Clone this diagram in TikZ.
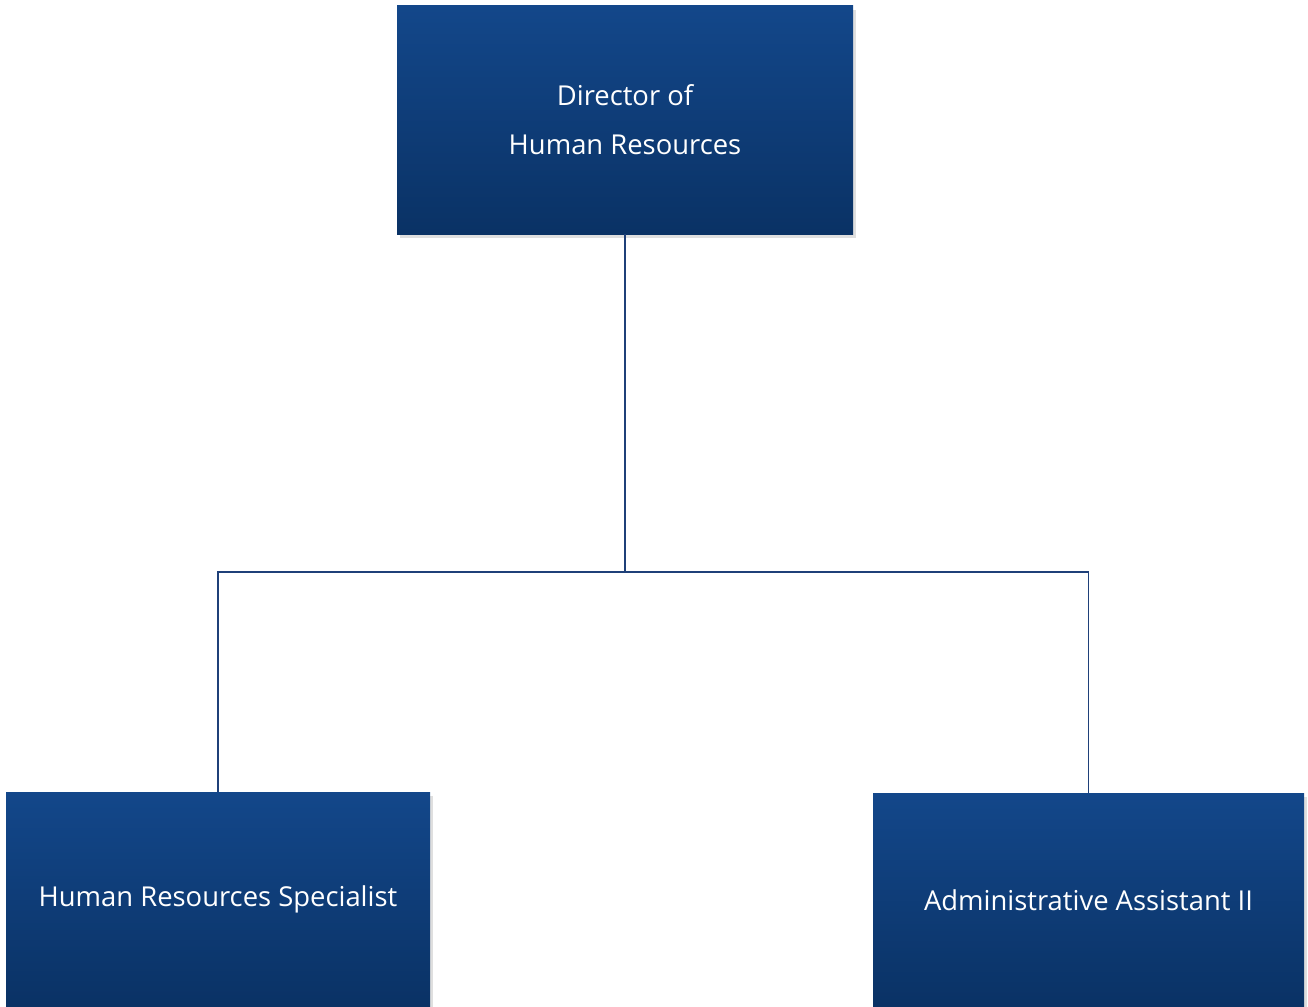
\documentclass[tikz,border=0pt]{standalone}
\usepackage{fontspec}
\setmainfont{Open Sans}
\usetikzlibrary{positioning,shadows}
\definecolor{ctop}{HTML}{13478A}
\definecolor{cbot}{HTML}{0A3265}
\definecolor{cline}{HTML}{1F4079}

\begin{document}
\begin{tikzpicture}[x=1pt,y=-1pt,
      font=\fontsize{27.4}{49}\selectfont,
      box/.style={top color=ctop,bottom color=cbot,text=white,align=center,
                  minimum height=228pt,inner sep=0pt,
                  drop shadow={shadow xshift=3pt,shadow yshift=-4pt,opacity=.25}},
      conn/.style={draw=cline,line width=1.8pt}]

    \useasboundingbox (0,0) rectangle (1308,1006);

    \node[box,minimum width=456pt] (dir) at (625,120) {Director of\\Human Resources};
    \node[box,minimum width=424pt,minimum height=214pt] (spec) at (218,899) {Human Resources Specialist};
    \node[box,minimum width=431pt,minimum height=214pt] (asst) at (1088.5,900) {Administrative Assistant II};

    \coordinate (split) at (625,572);

    \draw[conn] (dir.south) -- (split);
    \draw[conn] (split) -| (spec.north);
    \draw[conn] (split) -| (asst.north);
  \end{tikzpicture}
\end{document}
